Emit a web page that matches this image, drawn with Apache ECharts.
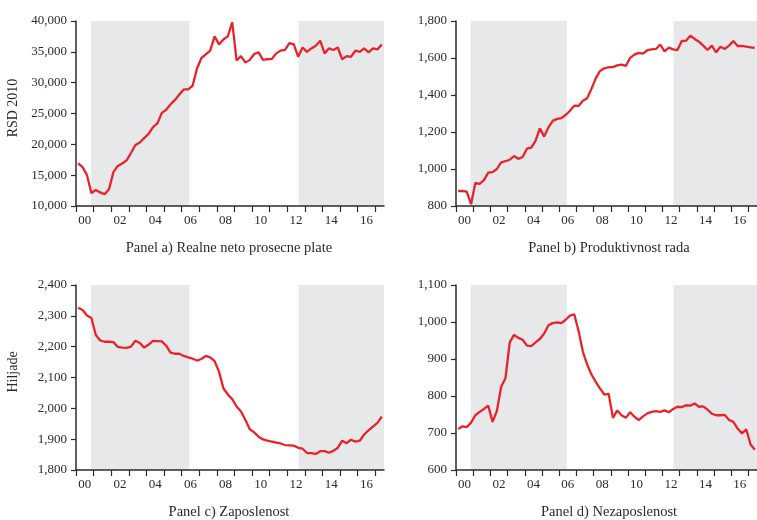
<!DOCTYPE html>
<html>
<head>
<meta charset="utf-8">
<script src="https://cdn.jsdelivr.net/npm/echarts@6/dist/echarts.min.js"></script>
<style>
  html, body { margin: 0; padding: 0; background: #fff; }
  #chart { width: 757px; height: 520px; }
</style>
</head>
<body>
<div id="chart"></div>
<script>
// Quarterly observations, 2000Q1 – 2017Q2
const firstYear = 2000;
const quarters = [];
for (let y = 2000; y <= 2017; y++) {
  for (let q = 1; q <= 4; q++) {
    if (y === 2017 && q > 2) break;
    quarters.push(y + 'Q' + q);
  }
}

// Panel a) real net average wage, RSD 2010
const wages = [
  16900, 16300, 15000, 12100, 12600, 12200, 11900, 12700, 15500, 16500,
  16900, 17400, 18600, 19900, 20300, 21000, 21700, 22800, 23400, 25100,
  25600, 26500, 27200, 28100, 28900, 28900, 29500, 32300, 34000, 34600,
  35200, 37500, 36200, 37000, 37500, 39800, 33600, 34300, 33250, 33700,
  34650, 34900, 33700, 33800, 33850, 34750, 35200, 35300, 36400, 36200,
  34200, 35700, 35000, 35550, 36000, 36800, 34750, 35550, 35300, 35700,
  33800, 34300, 34200, 35200, 35000, 35550, 34900, 35550, 35400, 36200
];

// Panel b) labour productivity
const productivity = [
  881, 881, 878, 810, 925, 920, 940, 980, 983, 1000,
  1036, 1042, 1050, 1070, 1055, 1065, 1110, 1115, 1152, 1220,
  1175, 1225, 1260, 1271, 1275, 1292, 1315, 1342, 1341, 1369,
  1382, 1433, 1490, 1530, 1544, 1550, 1551, 1560, 1564, 1557,
  1601, 1618, 1628, 1624, 1642, 1647, 1649, 1673, 1636, 1656,
  1647, 1643, 1692, 1693, 1721, 1703, 1688, 1667, 1643, 1667,
  1631, 1661, 1649, 1667, 1692, 1665, 1665, 1661, 1658, 1655
];

// Panel c) employment, thousands
const employment = [
  2326, 2319, 2301, 2293, 2238, 2220, 2216, 2216, 2215, 2199,
  2197, 2196, 2200, 2219, 2212, 2197, 2207, 2219, 2218, 2217,
  2203, 2181, 2177, 2177, 2170, 2165, 2161, 2155, 2160, 2170,
  2165, 2153, 2119, 2065, 2045, 2030, 2006, 1990, 1962, 1932,
  1922, 1908, 1899, 1895, 1892, 1889, 1886, 1881, 1880, 1879,
  1872, 1869, 1855, 1855, 1852, 1861, 1861, 1856, 1862, 1872,
  1895, 1887, 1898, 1892, 1895, 1915, 1929, 1941, 1953, 1973
];

// Panel d) unemployment, thousands
const unemployment = [
  711, 718, 716, 728, 748, 757, 765, 774, 730, 759,
  825, 848, 945, 965, 957, 952, 936, 935, 945, 954,
  969, 991, 997, 999, 997, 1006, 1017, 1021, 976, 920,
  885, 858, 838, 820, 804, 806, 741, 761, 748, 741,
  756, 744, 735, 745, 753, 757, 759, 757, 761, 756,
  765, 771, 770, 775, 774, 780, 771, 772, 763, 752,
  748, 748, 749, 735, 730, 712, 699, 710, 669, 655
];

// Shaded periods, in fractional years
const shadedPeriods = [[2000.85, 2006.44], [2012.65, 2017.5]];

const panelTitles = [
  'Panel a) Realne neto prosecne plate',
  'Panel b) Produktivnost rada',
  'Panel c) Zaposlenost',
  'Panel d) Nezaposlenost'
];
const yNames = ['RSD 2010', '', 'Hiljade', ''];
const yRanges = [
  { min: 10000, max: 40000, interval: 5000 },
  { min: 800, max: 1800, interval: 200 },
  { min: 1800, max: 2400, interval: 100 },
  { min: 600, max: 1100, interval: 100 }
];
const seriesData = [wages, productivity, employment, unemployment];

const FONT = 'Liberation Serif';
const INK = '#2b2b2b';
const RED = '#e8232b';
const SHADE = '#e7e8ea';

const nQ = quarters.length;                 // axis measured in quarters
const toQ = yr => (yr - firstYear) * 4;
const yearTicks = [];
for (let q = 0; q <= nQ - 1; q += 4) yearTicks.push(q);
const labelSpots = [];                        // mid-year of even years
for (let q = 2; q < nQ; q += 8) labelSpots.push(q);

function commas(v) {
  return String(Math.round(v)).replace(/\B(?=(\d{3})+(?!\d))/g, ',');
}

const grids = [
  { left: 76, top: 21, width: 308, height: 185 },
  { left: 456, top: 21, width: 308, height: 185 },
  { left: 76, top: 285, width: 308, height: 185 },
  { left: 456, top: 285, width: 308, height: 185 }
];

const xAxes = grids.map((g, k) => ({
  type: 'value', gridIndex: k, min: 0, max: nQ, z: 10,
  axisLine: { show: true, lineStyle: { color: INK, width: 1.5 } },
  axisTick: { show: true, customValues: yearTicks, length: 6, lineStyle: { color: INK, width: 1.2 } },
  axisLabel: {
    customValues: labelSpots, margin: 8,
    fontFamily: FONT, fontSize: 13, color: INK,
    formatter: v => String((firstYear + (v - 2) / 4) % 100).padStart(2, '0')
  },
  splitLine: { show: false }
}));

const yAxes = grids.map((g, k) => ({
  type: 'value', gridIndex: k, z: 10,
  min: yRanges[k].min, max: yRanges[k].max, interval: yRanges[k].interval,
  axisLine: { show: true, lineStyle: { color: INK, width: 1.5 } },
  axisTick: { show: true, length: 5, lineStyle: { color: INK, width: 1.2 } },
  axisLabel: { margin: 9, fontFamily: FONT, fontSize: 13, color: INK, formatter: commas },
  splitLine: { show: false }
}));

const series = seriesData.map((vals, k) => ({
  type: 'line', xAxisIndex: k, yAxisIndex: k,
  data: vals.map((v, i) => [i + 0.5, v]),
  showSymbol: false, smooth: false,
  lineStyle: { color: RED, width: 2.3 },
  z: 3,
  markArea: {
    silent: true,
    itemStyle: { color: SHADE },
    data: shadedPeriods.map(p => [{ xAxis: toQ(p[0]) }, { xAxis: Math.min(toQ(p[1]), nQ) }])
  }
}));

const graphics = [];
grids.forEach((g, k) => {
  graphics.push({
    type: 'text',
    style: {
      text: panelTitles[k], x: g.left + 153, y: g.top + g.height + 42,
      textAlign: 'center', textVerticalAlign: 'middle',
      font: '14.5px "' + FONT + '"', fill: INK
    }
  });
  if (yNames[k]) {
    graphics.push({
      type: 'text', x: 13, y: g.top + 87, rotation: Math.PI / 2,
      style: {
        text: yNames[k], x: 0, y: 0,
        textAlign: 'center', textVerticalAlign: 'middle',
        font: '14px "' + FONT + '"', fill: INK
      }
    });
  }
});

const chart = echarts.init(document.getElementById('chart'), null, { renderer: 'canvas' });
chart.setOption({
  animation: false,
  backgroundColor: '#fff',
  grid: grids,
  xAxis: xAxes,
  yAxis: yAxes,
  series: series,
  graphic: graphics
});
</script>
</body>
</html>
